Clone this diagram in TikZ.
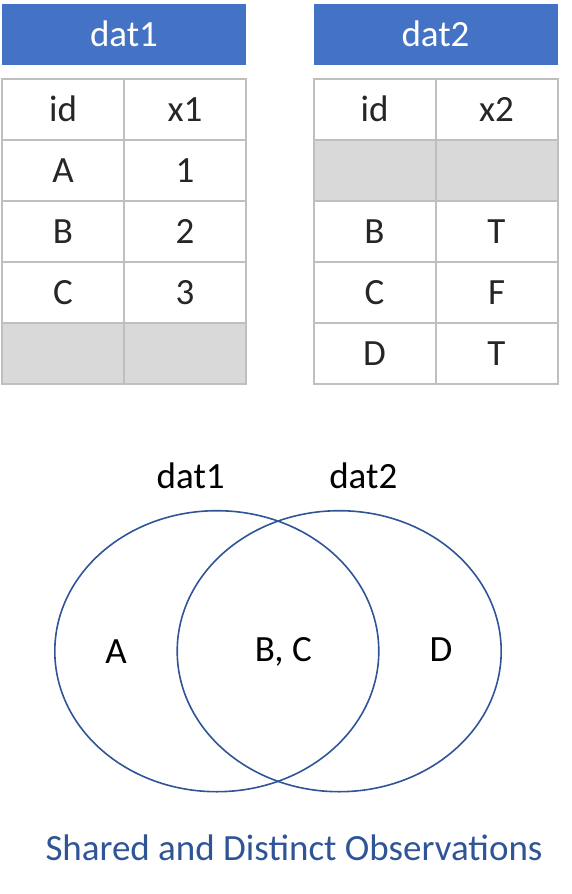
\documentclass[tikz,border=0pt]{standalone}
\usepackage{fontspec}
\setmainfont{Carlito}
\usetikzlibrary{positioning,shapes.geometric}
\definecolor{hdrblue}{HTML}{4472C4}
\definecolor{setblue}{HTML}{2F5597}
\definecolor{gridgray}{HTML}{BFBFBF}
\definecolor{emptygray}{HTML}{D9D9D9}

\begin{document}
\begin{tikzpicture}[x=1pt,y=-1pt,node distance=0pt,
	every node/.style={font=\fontsize{37}{44}\selectfont},
	hdr/.style={fill=hdrblue,text=white,minimum width=244pt,minimum height=61pt,inner sep=0pt,text height=24.5pt,text depth=0pt},
	cell/.style={draw=gridgray,line width=2pt,minimum width=122pt,minimum height=61pt,inner sep=0pt,outer sep=0pt,text height=25.5pt,text depth=0pt,text=black!85},
	blank/.style={cell,fill=emptygray},
	set/.style={ellipse,draw=setblue,line width=1.6pt,minimum width=324pt,minimum height=281pt,inner sep=0pt}]
	\useasboundingbox (0,0) rectangle (572,894);
	% table dat1
	\node[hdr] (h_1) at (124,34.5) {dat1};
	\node[cell] (t1_id) at (63,109) {id};
	\node[cell] [right= of t1_id] (t1_x1) {x1};
	\node[cell] [below= of t1_id] (t1_a) {A};
	\node[cell] [right= of t1_a] (t1_1) {1};
	\node[cell] [below= of t1_a] (t1_b) {B};
	\node[cell] [right= of t1_b] (t1_2) {2};
	\node[cell] [below= of t1_b] (t1_c) {C};
	\node[cell] [right= of t1_c] (t1_3) {3};
	\node[blank] [below= of t1_c] (t1_e1) {};
	\node[blank] [right= of t1_e1] (t1_e2) {};
	% table dat2
	\node[hdr] (h_2) at (435.5,34.5) {dat2};
	\node[cell] (t2_id) at (374.5,109) {id};
	\node[cell] [right= of t2_id] (t2_x2) {x2};
	\node[blank] [below= of t2_id] (t2_e1) {};
	\node[blank] [right= of t2_e1] (t2_e2) {};
	\node[cell] [below= of t2_e1] (t2_b) {B};
	\node[cell] [right= of t2_b] (t2_t1) {T};
	\node[cell] [below= of t2_b] (t2_c) {C};
	\node[cell] [right= of t2_c] (t2_f) {F};
	\node[cell] [below= of t2_c] (t2_d) {D};
	\node[cell] [right= of t2_d] (t2_t2) {T};
	% venn diagram
	\node[set] (s_1) at (216.8,651.2) {};
	\node[set] (s_2) at (339.2,651.2) {};
	\node[anchor=base] (l_1) at (190.7,488.3) {dat1};
	\node[anchor=base] (l_2) at (363.3,488) {dat2};
	\node[anchor=base] (m_a) at (116,663) {A};
	\node[anchor=base] (m_bc) at (283.3,661.7) {B, C};
	\node[anchor=base] (m_d) at (441,661.5) {D};
	\node[anchor=base,text=setblue] (caption) at (294,860.7) {Shared and Distinct Observations};
\end{tikzpicture}
\end{document}
